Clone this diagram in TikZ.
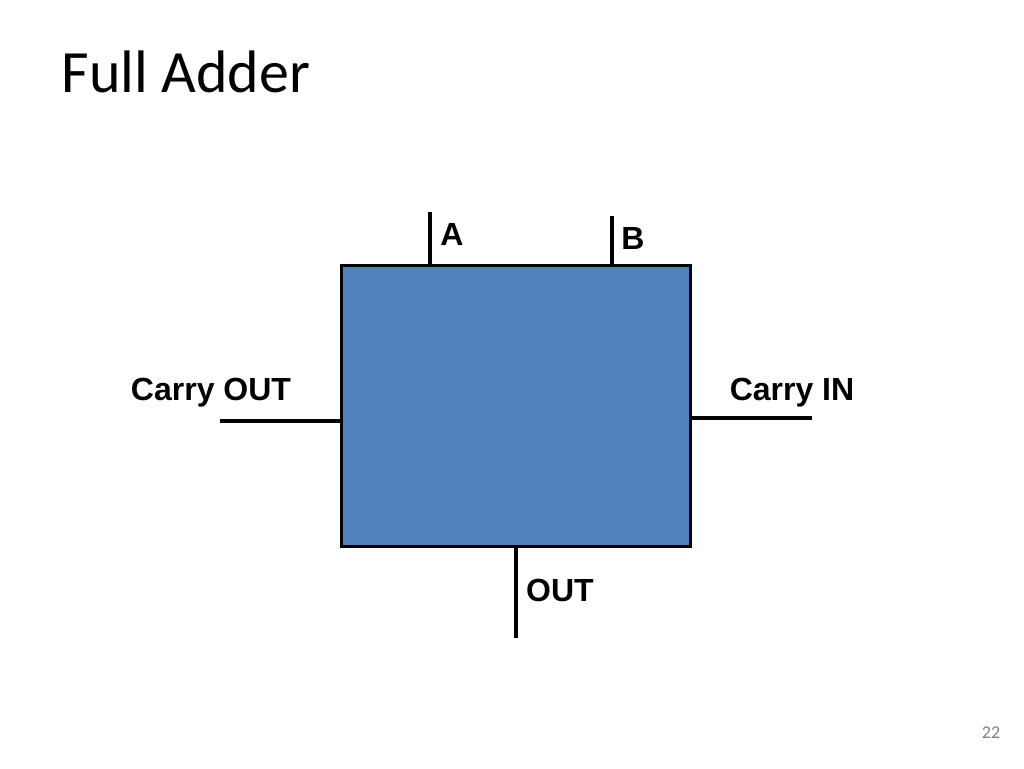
\documentclass[tikz,border=0pt]{standalone}
\usepackage{fontspec}
\setmainfont{Carlito}
\newfontfamily\lab{Liberation Sans}
\definecolor{boxblue}{HTML}{4F81BD}
\begin{document}
\begin{tikzpicture}[x=1pt,y=-1pt,
  wire/.style={line width=3.5pt},
  lbl/.style={font=\lab\bfseries\fontsize{32}{36}\selectfont}]
\useasboundingbox (0,0) rectangle (1024,768);
\node[anchor=west,font=\fontsize{60}{70}\selectfont] (title) at (58,72) {Full Adder};
\node[draw=black,line width=3.5pt,fill=boxblue,minimum width=349pt,minimum height=281pt,inner sep=0pt,anchor=center] (box) at (516,406) {};
\coordinate (a0) at (430,212); \coordinate (a1) at (430,264);
\coordinate (b0) at (612,216); \coordinate (b1) at (612,264);
\coordinate (co0) at (220,421); \coordinate (co1) at (340,421);
\coordinate (ci0) at (692,418); \coordinate (ci1) at (812,418);
\coordinate (o0) at (516,548); \coordinate (o1) at (516,638);
\draw[wire] (a0) -- (a1);
\draw[wire] (b0) -- (b1);
\draw[wire] (co0) -- (co1);
\draw[wire] (ci0) -- (ci1);
\draw[wire] (o0) -- (o1);
\node[lbl] (la) at (452,234) {A};
\node[lbl] (lb) at (633,238) {B};
\node[lbl] (lco) at (211,393) {Carry OUT};
\node[lbl] (lci) at (792,393) {Carry IN};
\node[lbl] (lo) at (560,590) {OUT};
\node[text=gray,font=\fontsize{18}{20}\selectfont] (pg) at (991,733) {22};
\end{tikzpicture}
\end{document}
